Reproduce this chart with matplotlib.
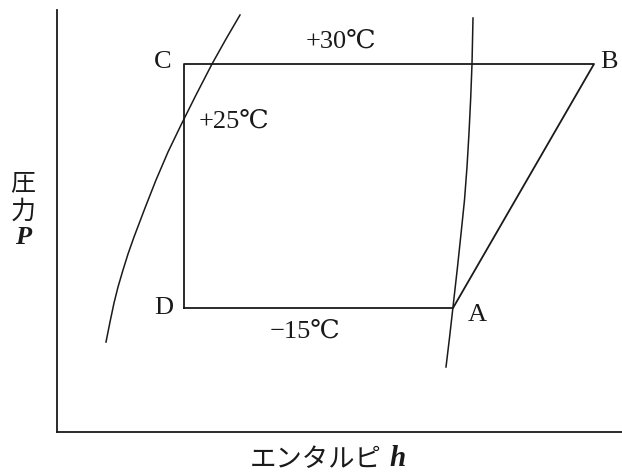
import matplotlib.pyplot as plt

# cycle corners D, C, B, A (enthalpy, pressure in arbitrary units)
cycle_labels = ["D", "C", "B", "A"]
cycle_h = [127, 127, 537, 396]
cycle_p = [124, 368, 368, 124]

# saturated liquid line (left) and saturated vapour line (right)
liq_h = [49, 53, 57, 61, 66, 71, 77, 88, 99, 111, 124, 139, 155, 169, 183]
liq_p = [90, 110, 129, 145, 162, 178, 195, 224, 252, 280, 307, 337, 368, 393, 417]
vap_h = [389, 392.6, 396, 400.5, 404.2, 407.5, 410, 412, 413.7, 415, 416]
vap_p = [65, 95, 125, 165, 200, 232, 265, 299, 334, 368, 414]

temp_texts = ["+30℃", "+25℃", "−15℃"]
temp_pos = [(284, 390), (177, 310), (248, 100)]

fonts = ["Liberation Serif", "DejaVu Serif", "Noto Sans CJK JP"]
col = "#1a1a1a"

fig = plt.figure(figsize=(6.22, 4.73), dpi=100)
ax = fig.add_axes([57 / 622, 41 / 473, 565 / 622, 422 / 473])
ax.set_xlim(0, 565)
ax.set_ylim(0, 422)
for s in ["top", "right"]:
    ax.spines[s].set_visible(False)
for s in ["left", "bottom"]:
    ax.spines[s].set_color(col)
    ax.spines[s].set_linewidth(1.3)
ax.set_xticks([])
ax.set_yticks([])

ax.plot(cycle_h + cycle_h[:1], cycle_p + cycle_p[:1], color=col, lw=1.3)
ax.plot(liq_h, liq_p, color=col, lw=1.1)
ax.plot(vap_h, vap_p, color=col, lw=1.1)

# corner letters
offsets = {"D": (-20, 0), "C": (-21, 2), "B": (15, 2), "A": (24, -7)}
for name, h, p in zip(cycle_labels, cycle_h, cycle_p):
    dx, dy = offsets[name]
    ax.text(h + dx, p + dy, name, ha="center", va="center", fontsize=19,
            family=fonts, color=col)

for t, (x, y) in zip(temp_texts, temp_pos):
    ax.text(x, y, t, ha="center", va="center", fontsize=19, family=fonts, color=col)

# axis labels
fig.text(23 / 622, 1 - 183 / 473, "圧", ha="center", va="center", fontsize=18,
         family=["Noto Sans CJK JP"], color=col)
fig.text(23 / 622, 1 - 212 / 473, "力", ha="center", va="center", fontsize=18,
         family=["Noto Sans CJK JP"], color=col)
fig.text(23 / 622, 1 - 237 / 473, "P", ha="center", va="center", fontsize=19,
         family=["Liberation Serif"], style="italic", weight="bold", color=col)
fig.text(316 / 622, 1 - 460 / 473, "エンタルピ", ha="center", va="center", fontsize=19,
         family=["Noto Sans CJK JP"], color=col)
fig.text(398 / 622, 1 - 458 / 473, "h", ha="center", va="center", fontsize=21,
         family=["Liberation Serif"], style="italic", weight="bold", color=col)

fig.savefig("out.png", dpi=100)
